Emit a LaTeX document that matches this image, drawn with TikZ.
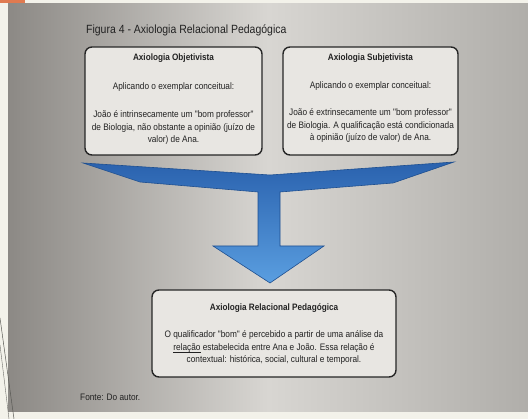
\documentclass[tikz,border=0pt]{standalone}
\usepackage{fontspec}
\setmainfont{Liberation Sans}
\newfontfamily\nar[FakeStretch=0.88]{Liberation Sans}
\usetikzlibrary{shadings}
\definecolor{boxfill}{HTML}{E8E6E2}
\definecolor{boxline}{HTML}{262626}
\definecolor{txt}{HTML}{222222}
\definecolor{arrowdark}{HTML}{1E4F90}
\definecolor{arrowtop}{HTML}{2A62AE}
\definecolor{arrowbot}{HTML}{5A9EE0}
\definecolor{paper}{HTML}{F3F2EA}
\definecolor{greyL}{HTML}{8C8985}
\definecolor{greyM}{HTML}{D8D6D2}
\definecolor{greyR}{HTML}{B0AEAA}
\definecolor{orangemark}{HTML}{E07A50}
\definecolor{curlA}{HTML}{5A5A55}
\definecolor{curlB}{HTML}{6E6E69}
\newcommand{\myul}[1]{\setbox0\hbox{#1}\rlap{\rule[-1.6pt]{\wd0}{0.5pt}}#1}
\tikzset{
  panel/.style={draw=boxline, line width=1.4pt, rounded corners=7pt, fill=boxfill, inner sep=0pt},
  head/.style={font=\nar\fontsize{9.3}{11}\selectfont\bfseries, text=txt, inner sep=0pt},
  body/.style={font=\nar\fontsize{9.4}{12.5}\selectfont, text=txt, inner sep=0pt, align=center},
}
\begin{document}
\begin{tikzpicture}[x=1pt,y=-1pt]
\useasboundingbox (0,0) rectangle (528,419);
% paper / photo background
\fill[paper] (0,0) rectangle (528,419);
\shade[left color=greyL, right color=greyR, middle color=greyM] (8,4) rectangle (528,412);
\fill[orangemark] (0,0) rectangle (25,3);
\draw[curlA, line width=0.5pt] (0,318) -- (14,419);
\draw[curlB, line width=0.4pt] (0,345) -- (9,419);

% title
\node[font=\nar\fontsize{11.9}{14}\selectfont, text=txt, anchor=west, inner sep=0pt] (title) at (86,30) {Figura 4 - Axiologia Relacional Pedagógica};

% left box
\node[panel, minimum width=177pt, minimum height=108pt] (obj) at (173.5,101) {};
\node[head] (objh) at (173.5,58) {Axiologia Objetivista};
\node[body] (objs) at (173.5,87) {Aplicando o exemplar conceitual:};
\node[body] (objt) at (173.5,128) {João é intrinsecamente um "bom professor"\\de Biologia, não obstante a opinião (juízo de\\valor) de Ana.};

% right box
\node[panel, minimum width=175pt, minimum height=108pt] (sub) at (370.5,101) {};
\node[head] (subh) at (370.5,58) {Axiologia Subjetivista};
\node[body] (subs) at (370.5,86) {Aplicando o exemplar conceitual:};
\node[body] (subt) at (370.5,126) {João é extrinsecamente um "bom professor"\\de Biologia. A qualificação está condicionada\\à opinião (juízo de valor) de Ana.};

% bottom box
\node[panel, minimum width=244pt, minimum height=87pt] (rel) at (274,333.5) {};
\node[head] (relh) at (274,308) {Axiologia Relacional Pedagógica};
\node[body] (relt) at (274,348) {O qualificador "bom" é percebido a partir de uma análise da\\\myul{relação} estabelecida entre Ana e João. Essa relação é\\contextual: histórica, social, cultural e temporal.};

% big blue merging arrow
\shade[top color=arrowtop, bottom color=arrowbot, draw=arrowdark, line width=0.6pt, line join=miter]
  (83,163) -- (270,175) -- (454,162) -- (393,183) -- (280,192) -- (280,246) -- (324,246)
  -- (270,283) -- (213,246) -- (258,246) -- (258,192) -- (140,182) -- cycle;

% source
\node[font=\nar\fontsize{9.4}{11}\selectfont, text=txt, anchor=west, inner sep=0pt] (fonte) at (80,397) {Fonte: Do autor.};
\end{tikzpicture}
\end{document}
